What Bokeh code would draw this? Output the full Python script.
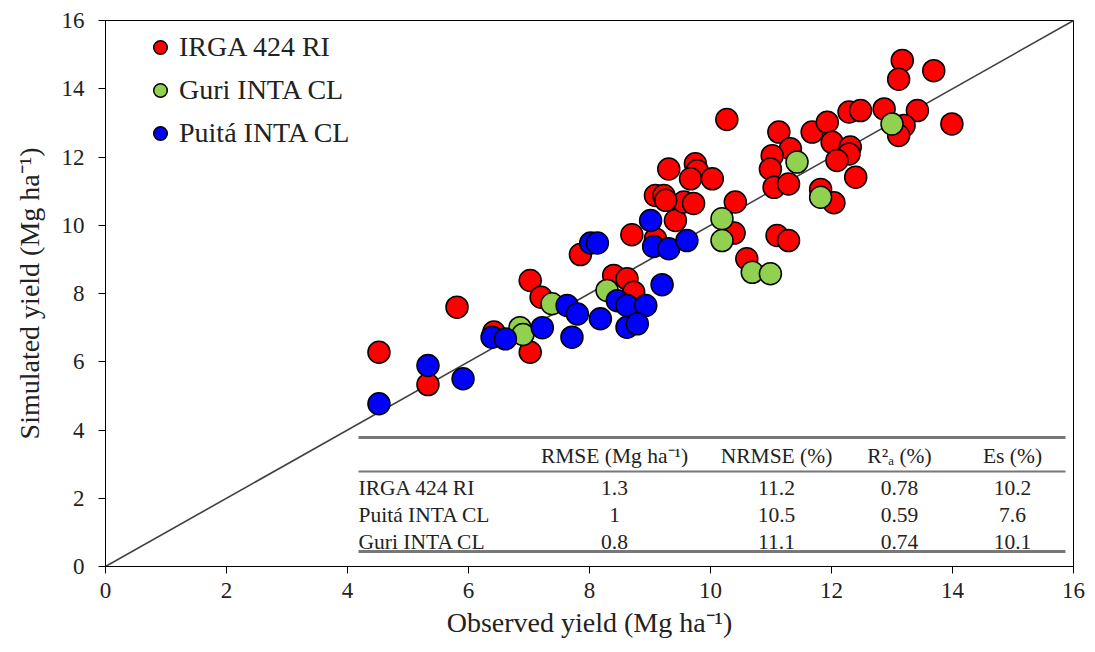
from bokeh.plotting import figure
from bokeh.models import (ColumnDataSource, Range1d, FixedTicker, Legend, LegendItem, Label)
from bokeh.embed import file_html
from bokeh.resources import INLINE

# ---------------- data ----------------
irga_obs = [4.52, 5.81, 5.33, 6.42, 7.02, 7.02, 7.20, 7.85, 8.40, 8.62, 8.73, 8.70, 9.09, 9.42,
            9.09, 9.23, 9.56, 9.72, 9.26, 9.31, 9.75, 9.78, 9.67, 10.03, 10.27, 10.41, 10.39,
            10.60, 11.10, 11.29, 11.13, 11.32, 11.02, 10.99, 11.05, 11.29, 11.68, 11.93, 12.01,
            12.31, 12.29, 12.09, 12.40, 11.82, 12.04, 12.29, 12.48, 12.87, 13.42, 13.99, 13.20,
            13.11, 13.17, 13.11, 13.69]
irga_sim = [6.28, 7.60, 5.33, 6.87, 6.28, 8.38, 7.89, 9.14, 8.53, 8.43, 8.04, 9.72, 9.60, 10.14,
            10.87, 10.87, 10.68, 10.64, 10.73, 11.65, 11.80, 11.60, 11.36, 11.36, 13.10, 10.68, 9.77,
            9.02, 9.70, 9.55, 12.73, 12.24, 12.04, 11.65, 11.11, 11.21, 12.73, 13.02, 12.43,
            12.29, 12.09, 11.90, 11.41, 11.05, 10.66, 13.32, 13.36, 13.41, 13.36, 12.97, 12.92,
            12.63, 14.83, 14.28, 14.53]

guri_obs = [6.85, 6.90, 7.38, 8.29, 10.19, 10.19, 11.43, 11.82, 10.69, 10.99, 13.00]
guri_sim = [7.00, 6.80, 7.70, 8.09, 10.19, 9.55, 11.85, 10.82, 8.62, 8.58, 12.97]

puita_obs = [4.52, 5.33, 5.91, 6.39, 6.61, 7.22, 7.63, 7.80, 7.71, 8.02, 8.13, 8.18, 8.46, 8.62,
             8.93, 8.62, 8.79, 9.20, 9.01, 9.06, 9.31, 9.61]
puita_sim = [4.77, 5.89, 5.50, 6.72, 6.67, 7.00, 7.65, 7.40, 6.72, 9.48, 9.48, 7.26, 7.79, 7.65,
             7.65, 7.01, 7.11, 8.26, 10.14, 9.38, 9.31, 9.55]

series_names = ["IRGA 424 RI", "Guri INTA CL", "Puitá INTA CL"]
series_colors = ["#FF0000", "#92D050", "#0000FF"]

axis_ticks = [0, 2, 4, 6, 8, 10, 12, 14, 16]
one_to_one = [0, 16]

# statistics table
table_cols = ["RMSE (Mg ha\u207b\u00b9)", "NRMSE (%)", "R\u00b2\u2090 (%)", "Es (%)"]
table_rows = ["IRGA 424 RI", "Puitá INTA CL", "Guri INTA CL"]
rmse = ["1.3", "1", "0.8"]
nrmse = ["11.2", "10.5", "11.1"]
r2a = ["0.78", "0.59", "0.74"]
es = ["10.2", "7.6", "10.1"]

# ---------------- figure ----------------
FONT = "Liberation Serif"
W, H = 1095, 652
p = figure(width=W, height=H, output_backend="svg", toolbar_location=None,
           x_range=Range1d(0, 16), y_range=Range1d(0, 16),
           min_border_left=105, min_border_right=22, min_border_top=20, min_border_bottom=86)
p.background_fill_color = "white"
p.border_fill_color = "white"
p.outline_line_color = "black"
p.outline_line_width = 1
p.grid.visible = False

for ax in (p.xaxis[0], p.yaxis[0]):
    ax.ticker = FixedTicker(ticks=axis_ticks)
    ax.major_tick_in = 0
    ax.major_tick_out = 7
    ax.minor_tick_in = 0
    ax.minor_tick_out = 0
    ax.axis_line_color = "black"
    ax.major_tick_line_color = "black"
    ax.major_label_text_font = FONT
    ax.major_label_text_font_size = "23px"
    ax.major_label_text_color = "#222222"
    ax.axis_label_text_font = FONT
    ax.axis_label_text_font_size = "28px"
    ax.axis_label_text_font_style = "normal"
    ax.axis_label_text_color = "#222222"

p.xaxis[0].axis_label = "Observed yield (Mg ha\u207b\u00b9)"
p.xaxis[0].major_label_standoff = 9
p.xaxis[0].axis_label_standoff = 6
p.yaxis[0].axis_label = "Simulated yield (Mg ha\u207b\u00b9)"
p.yaxis[0].major_label_standoff = 14
p.yaxis[0].axis_label_standoff = 14

# 1:1 line
p.line(one_to_one, one_to_one, line_color="#404040", line_width=1.6)

# points: red, then green, then blue on top
renderers = []
for xs, ys, c in [(irga_obs, irga_sim, series_colors[0]),
                  (guri_obs, guri_sim, series_colors[1]),
                  (puita_obs, puita_sim, series_colors[2])]:
    src = ColumnDataSource(dict(x=xs, y=ys))
    r = p.scatter("x", "y", source=src, size=22, fill_color=c, line_color="black",
                  line_width=1.5)
    renderers.append(r)

legend = Legend(items=[LegendItem(label=series_names[i], renderers=[renderers[i]]) for i in range(3)],
                location=(38, 416), glyph_width=34, glyph_height=34, spacing=9, padding=0,
                label_standoff=2, label_text_font=FONT, label_text_font_size="28px",
                label_text_color="#222222", border_line_alpha=0, background_fill_alpha=0)
p.add_layout(legend, "center")

# ---------------- table (layout in pixel space converted to data) ----------------
fx0, fy0, sx, sy = 105.0, 566.0, 60.5, 34.125
def dx(px):
    return (px - fx0) / sx
def dy(py):
    return (fy0 - py) / sy

tbl_left, tbl_right = 358, 1065
for py, lw in [(437, 3), (471, 2.2), (551, 3)]:
    p.line([dx(tbl_left), dx(tbl_right)], [dy(py), dy(py)], line_color="#777777", line_width=lw)

col_px = [614, 776, 899, 1012]
head_py = 455
row_py = [487, 514, 541]
TS = "21.5px"
for cx, t in zip(col_px, table_cols):
    p.add_layout(Label(x=dx(cx), y=dy(head_py), text=t, text_align="center", text_baseline="middle",
                       text_font=FONT, text_font_size=TS, text_color="#222222"))
for i, ry in enumerate(row_py):
    p.add_layout(Label(x=dx(tbl_left), y=dy(ry), text=table_rows[i], text_align="left",
                       text_baseline="middle", text_font=FONT, text_font_size=TS, text_color="#222222"))
    for cx, vals in zip(col_px, [rmse, nrmse, r2a, es]):
        p.add_layout(Label(x=dx(cx), y=dy(ry), text=vals[i], text_align="center",
                           text_baseline="middle", text_font=FONT, text_font_size=TS,
                           text_color="#222222"))

open("out.html", "w").write(file_html(p, INLINE))
